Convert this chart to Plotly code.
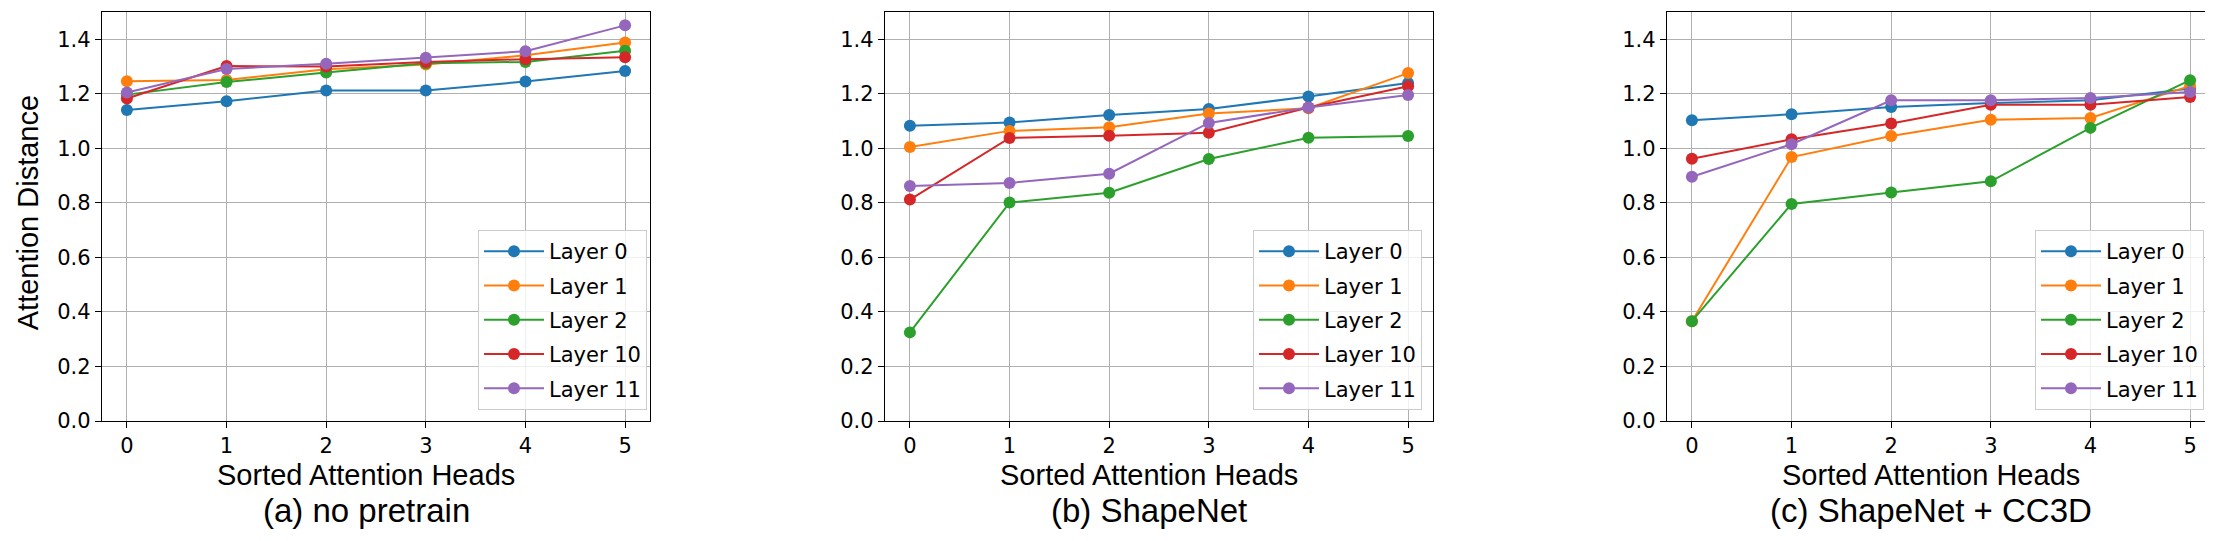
"""Attention distance per sorted head, three pretraining settings."""

import plotly.graph_objects as go

W, H = 2213, 541

heads = [0, 1, 2, 3, 4, 5]
layer_names = ["Layer 0", "Layer 1", "Layer 2", "Layer 10", "Layer 11"]
colors = ["#1f77b4", "#ff7f0e", "#2ca02c", "#d62728", "#9467bd"]

captions = ["(a) no pretrain", "(b) ShapeNet", "(c) ShapeNet + CC3D"]
x_title = "Sorted Attention Heads"
y_title = "Attention Distance"
y_ticks = [0.0, 0.2, 0.4, 0.6, 0.8, 1.0, 1.2, 1.4]

# (a) no pretrain
no_pretrain = [
    [1.141, 1.173, 1.212, 1.212, 1.245, 1.284],
    [1.246, 1.251, 1.290, 1.307, 1.341, 1.388],
    [1.197, 1.243, 1.278, 1.312, 1.317, 1.358],
    [1.183, 1.302, 1.300, 1.317, 1.327, 1.334],
    [1.205, 1.291, 1.310, 1.332, 1.356, 1.451],
]
# (b) ShapeNet
shapenet = [
    [1.083, 1.095, 1.122, 1.144, 1.190, 1.240],
    [1.005, 1.064, 1.077, 1.128, 1.147, 1.276],
    [0.325, 0.801, 0.837, 0.961, 1.039, 1.045],
    [0.812, 1.038, 1.046, 1.057, 1.150, 1.228],
    [0.862, 0.873, 0.907, 1.093, 1.150, 1.196],
]
# (c) ShapeNet + CC3D
shapenet_cc3d = [
    [1.103, 1.125, 1.152, 1.166, 1.176, 1.219],
    [0.366, 0.968, 1.045, 1.105, 1.111, 1.229],
    [0.366, 0.796, 0.838, 0.879, 1.075, 1.250],
    [0.962, 1.033, 1.091, 1.160, 1.160, 1.188],
    [0.896, 1.015, 1.176, 1.176, 1.185, 1.207],
]
panels = [no_pretrain, shapenet, shapenet_cc3d]

# layout in pixels (axes box left/right, plot top/bottom)
axes_px = [(94, 642), (877, 1425), (1659, 2207)]
legend_right_px = [639, 1414, 2196]
top_px, bottom_px = 3.5, 413
plot_h = bottom_px - top_px

tick_font = dict(family="DejaVu Sans", size=21, color="black")
label_font = dict(family="Liberation Sans, Arial", size=29, color="black")
caption_font = dict(family="Liberation Sans, Arial", size=33, color="black")


def py(px):
    """Pixel row -> paper y."""
    return (bottom_px - px) / plot_h


fig = go.Figure()
layout = dict(
    width=W,
    height=H,
    margin=dict(l=0, r=0, t=top_px, b=H - bottom_px, pad=0),
    plot_bgcolor="white",
    paper_bgcolor="white",
    showlegend=True,
    annotations=[],
)

for i, (data, (x0, x1)) in enumerate(zip(panels, axes_px)):
    n = "" if i == 0 else str(i + 1)
    leg = "legend" if i == 0 else f"legend{i + 1}"
    for j, vals in enumerate(data):
        fig.add_trace(go.Scatter(
            x=heads,
            y=vals,
            mode="lines+markers",
            name=layer_names[j],
            line=dict(color=colors[j], width=2),
            marker=dict(color=colors[j], size=12),
            xaxis=f"x{n}",
            yaxis=f"y{n}",
            legend=leg,
            legendgroup=f"p{i}l{j}",
        ))

    axis_common = dict(
        showline=True, mirror=True, linecolor="black", linewidth=1.3,
        showgrid=True, gridcolor="#b0b0b0", gridwidth=1.1,
        ticks="outside", ticklen=6, tickwidth=1.2, tickcolor="black",
        tickfont=tick_font, zeroline=False, fixedrange=True,
    )
    layout[f"xaxis{n}"] = dict(
        axis_common,
        domain=[x0 / W, x1 / W],
        range=[-0.25, 5.25],
        tickvals=heads,
        anchor=f"y{n}",
    )
    layout[f"yaxis{n}"] = dict(
        axis_common,
        domain=[0, 1],
        range=[0, 1.5],
        tickvals=y_ticks,
        tickformat=".1f",
        anchor=f"x{n}",
    )
    layout[leg] = dict(
        x=legend_right_px[i] / W,
        xanchor="right",
        y=py(402),
        yanchor="bottom",
        bgcolor="rgba(255,255,255,0.8)",
        bordercolor="#cccccc",
        borderwidth=1,
        font=dict(family="DejaVu Sans", size=21, color="black"),
        traceorder="grouped",
        tracegroupgap=4,
        itemwidth=60,
    )

    center = (x0 + x1) / 2 - 10
    layout["annotations"].append(dict(
        text=x_title, x=center / W, y=py(467), xref="paper", yref="paper",
        showarrow=False, font=label_font, xanchor="center", yanchor="middle",
    ))
    layout["annotations"].append(dict(
        text=captions[i], x=center / W, y=py(503), xref="paper", yref="paper",
        showarrow=False, font=caption_font, xanchor="center", yanchor="middle",
    ))

layout["annotations"].append(dict(
    text=y_title, x=2 / W, y=py(205), xref="paper", yref="paper",
    showarrow=False, font=label_font, textangle=-90,
    xanchor="left", yanchor="middle",
))

fig.update_layout(**layout)
fig.write_html("out.html")
